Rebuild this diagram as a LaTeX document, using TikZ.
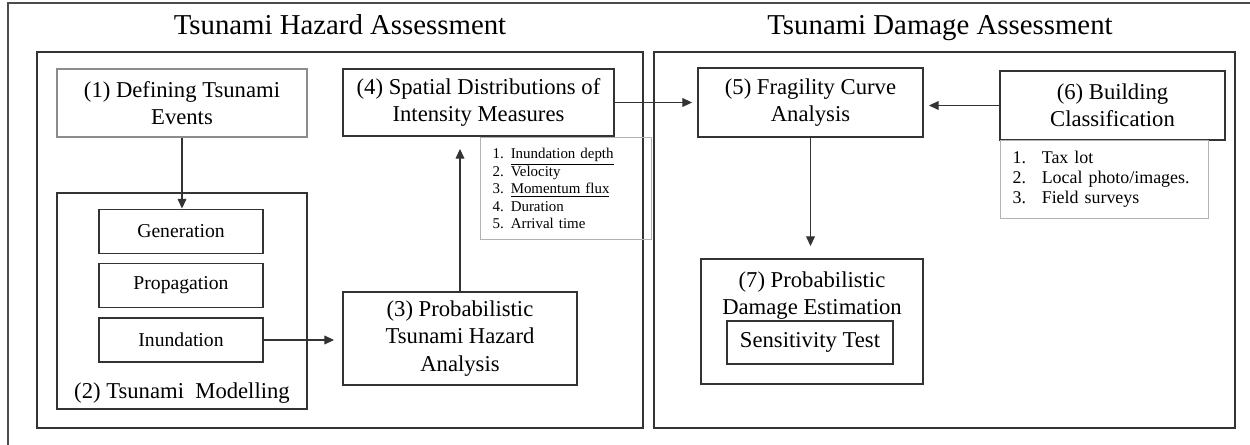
\documentclass[tikz,border=0pt]{standalone}
\usepackage{fontspec}
\setmainfont{Liberation Serif}
\usetikzlibrary{arrows.meta}
\tikzset{
  grp/.style={draw=black!80, line width=1.1pt, inner sep=0pt},
  txt/.style={inner sep=0pt, align=center, font=\fontsize{12.9}{15.6}\selectfont},
  box/.style={txt, draw=black!80, line width=1.1pt},
  thinbox/.style={box, draw=black!45, line width=0.6pt},
  stage/.style={box, font=\fontsize{11.2}{13}\selectfont, minimum width=3.28cm, minimum height=0.88cm},
  listbox/.style={draw=black!30, line width=0.6pt, inner xsep=0.24cm, inner ysep=0pt, align=left, anchor=north west},
  title/.style={font=\fontsize{16.4}{19}\selectfont, anchor=base},
  arr/.style={-{Triangle[length=5.5pt,width=5pt]}, line width=0.6pt, draw=black!80}
}
\begin{document}
\begin{tikzpicture}[x=0.02cm, y=-0.02cm]
  \useasboundingbox (0,0) rectangle (1250,445);
  \draw[black!70, line width=0.8pt] (1250,3) -- (8,3) -- (8,445);
  \node[title] (t1) at (340,35) {Tsunami Hazard Assessment};
  \node[title] (t2) at (940,35) {Tsunami Damage Assessment};
  \node[grp, minimum width=12.12cm, minimum height=7.52cm] (haz) at (340,240) {};
  \node[grp, minimum width=11.62cm, minimum height=7.52cm] (dam) at (944.5,240) {};
  % hazard side
  \node[thinbox, minimum width=5cm, minimum height=1.36cm] (n1) at (182,103) {(1) Defining Tsunami\\Events};
  \node[grp, minimum width=5cm, minimum height=4.32cm,
    label={[txt, anchor=south, yshift=0.12cm]south:(2) Tsunami\ \ Modelling}] (n2) at (182,301) {};
  \node[stage] (gen) at (181,231.5) {Generation};
  \node[stage] (prop) at (181,285.5) {Propagation};
  \node[stage] (inun) at (181,340) {Inundation};
  \node[box, minimum width=4.68cm, minimum height=1.86cm] (n3) at (460,338.5) {(3) Probabilistic\\Tsunami Hazard\\Analysis};
  \node[box, minimum width=5.42cm, minimum height=1.34cm] (n4) at (478.5,102.5) {(4) Spatial Distributions of\\Intensity Measures};
  \node[listbox, text width=2.94cm, minimum height=2.04cm, font=\fontsize{8.5}{10}\selectfont] (im) at (480,137)
    {1.\hspace{4pt}\underline{Inundation depth}\\2.\hspace{4pt}Velocity\\3.\hspace{4pt}\underline{Momentum flux}\\4.\hspace{4pt}Duration\\5.\hspace{4pt}Arrival time};
  % damage side
  \node[box, minimum width=4.5cm, minimum height=1.38cm] (n5) at (810.5,102.5) {(5) Fragility Curve\\Analysis};
  \node[box, minimum width=4.5cm, minimum height=1.38cm] (n6) at (1112.5,105.5) {(6) Building\\Classification};
  \node[listbox, text width=3.68cm, minimum height=1.56cm, font=\fontsize{10.2}{11.4}\selectfont] (bc) at (1000,140)
    {1.\hspace{9pt}Tax lot\\2.\hspace{9pt}Local photo/images.\\3.\hspace{9pt}Field surveys};
  \node[box, minimum width=4.44cm, minimum height=2.5cm,
    label={[txt, anchor=north, yshift=-0.26cm]north:(7) Probabilistic\\Damage Estimation}] (n7) at (812,321.5) {};
  \node[box, minimum width=3.32cm, minimum height=0.86cm] (sens) at (810,342.5) {Sensitivity Test};
  % connectors
  \draw[arr] (n1.south) -- (n1.south |- gen.north);
  \draw[arr, shorten >=0.16cm] (inun.east) -- (inun.east -| n3.west);
  \draw[arr, shorten >=0.24cm] (n3.north) -- (n3.north |- n4.south);
  \draw[arr, shorten >=0.1cm] (n4.east) -- (n5.west);
  \draw[arr, shorten >=0.1cm] (n6.west) -- (n6.west -| n5.east);
  \draw[arr, shorten >=0.24cm] (n5.south) -- (n5.south |- n7.north);
\end{tikzpicture}
\end{document}
